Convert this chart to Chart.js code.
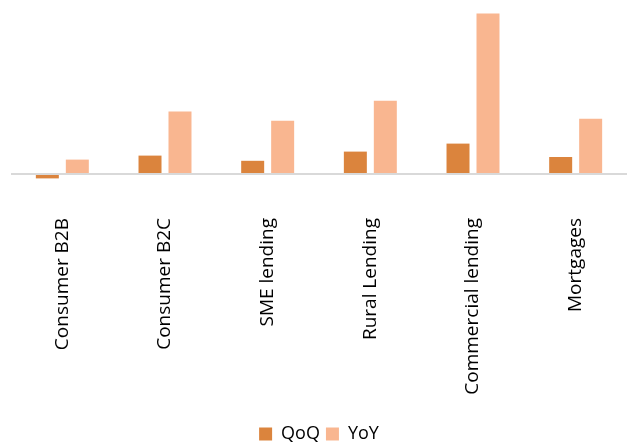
<!DOCTYPE html>
<html lang="en">
<head>
    <meta charset="UTF-8">
    <title>Lending growth</title>
    <script src="https://cdn.jsdelivr.net/npm/chart.js"></script>
    <style>
        html, body { margin: 0; padding: 0; background: #fff; }
        #wrap { width: 632px; height: 446px; }
    </style>
</head>
<body>
<div id="wrap"><canvas id="growthChart" width="632" height="446"></canvas></div>

<script>
// Data (values estimated, units as %)
const categories = ['Consumer B2B', 'Consumer B2C', 'SME lending', 'Rural Lending', 'Commercial lending', 'Mortgages'];
const qoqValues = [-1.1, 4.6, 3.3, 5.6, 7.6, 4.25];
const yoyValues = [3.6, 15.6, 13.3, 18.3, 40.1, 13.8];

const ctx = document.getElementById('growthChart').getContext('2d');

new Chart(ctx, {
    type: 'bar',
    data: {
        labels: categories,
        datasets: [{
            label: 'QoQ',
            data: qoqValues,
            backgroundColor: '#DB843D'
        }, {
            label: 'YoY',
            data: yoyValues,
            backgroundColor: '#F9B690'
        }]
    },
    options: {
        responsive: false,
        animation: false,
        datasets: { bar: { categoryPercentage: 0.584, barPercentage: 0.767 } },
        layout: { padding: { left: 11, right: 5, top: 6, bottom: -7 } },
        plugins: {
            tooltip: { enabled: false },
            legend: {
                position: 'bottom',
                labels: {
                    font: { family: 'Open Sans', size: 18 },
                    color: '#000',
                    boxWidth: 13,
                    boxHeight: 13,
                    padding: 6
                }
            }
        },
        scales: {
            x: {
                grid: { display: false },
                border: { display: false },
                // keep the axis band fixed so the plot bottom sits where the reference has it
                afterFit: s => { s.height = 237; },
                ticks: {
                    font: { family: 'Open Sans', size: 19 },
                    color: '#000',
                    minRotation: 90,
                    maxRotation: 90,
                    padding: 28,
                    autoSkip: false
                }
            },
            y: {
                min: -2,
                max: 42,
                border: { display: false },
                ticks: { display: false, stepSize: 2 },
                grid: {
                    drawTicks: false,
                    lineWidth: 2,
                    color: c => c.tick.value === 0 ? '#D9D9D9' : 'rgba(0,0,0,0)'
                }
            }
        }
    }
});
</script>
</body>
</html>
